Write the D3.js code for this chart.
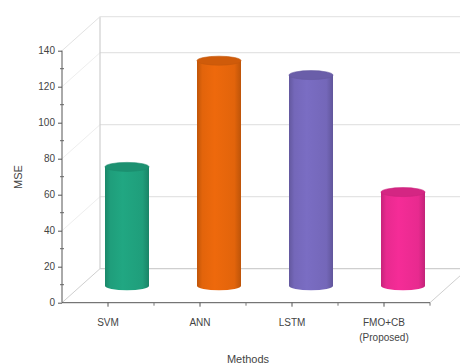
<!DOCTYPE html>
<html>
<head>
<meta charset="utf-8">
<script src="https://cdn.jsdelivr.net/npm/d3@7/dist/d3.min.js"></script>
<style>
  html, body { margin: 0; padding: 0; background: #fff; }
  svg { display: block; font-family: "Liberation Sans", Arial, sans-serif; }
</style>
</head>
<body>
<svg id="chart" width="460" height="364"></svg>
<script>
const categories = ["SVM", "ANN", "LSTM", "FMO+CB\n(Proposed)"];
const mseValues = [66, 125, 117, 52];
const barColors = ["#1f9e7b", "#e2640b", "#7467b9", "#e82a8f"];
const yTicks = [0, 20, 40, 60, 80, 100, 120, 140];
const yTitle = "MSE";
const xTitle = "Methods";

const svg = d3.select("#chart");
const depthX = 38, depthY = -34;
const x = d3.scaleBand().domain(categories).range([62, 430]).padding(0);
const y = d3.scaleLinear().domain([0, 140]).range([302.7, 50.7]);

const defs = svg.append("defs");
function shade(c, k) { return d3.color(c).darker(k).formatHex(); }
function light(c, k) { return d3.color(c).brighter(k).formatHex(); }
barColors.forEach((c, i) => {
  const g = defs.append("linearGradient").attr("id", "g" + i)
    .attr("x1", "0").attr("x2", "1").attr("y1", "0").attr("y2", "0");
  g.append("stop").attr("offset", "0%").attr("stop-color", shade(c, 0.45));
  g.append("stop").attr("offset", "12%").attr("stop-color", c);
  g.append("stop").attr("offset", "40%").attr("stop-color", light(c, 0.15));
  g.append("stop").attr("offset", "85%").attr("stop-color", c);
  g.append("stop").attr("offset", "100%").attr("stop-color", shade(c, 0.5));
});

const wallColor = "#cfcfcf", gridColor = "#e4e4e4";
const bx0 = 62 + depthX, bx1 = 430 + depthX;
// back wall gridlines
[40, 80, 120].forEach(v => {
  svg.append("line").attr("x1", bx0).attr("x2", bx1)
    .attr("y1", y(v) + depthY).attr("y2", y(v) + depthY)
    .attr("stroke", gridColor).attr("stroke-width", 1.2);
  svg.append("line").attr("x1", 62).attr("x2", bx0)
    .attr("y1", y(v)).attr("y2", y(v) + depthY)
    .attr("stroke", "#eeeeee").attr("stroke-width", 1);
});
// back wall frame
svg.append("line").attr("x1", bx0).attr("x2", bx0).attr("y1", y(0) + depthY).attr("y2", y(140) + depthY)
  .attr("stroke", wallColor).attr("stroke-width", 1.2);
svg.append("line").attr("x1", bx0).attr("x2", bx1).attr("y1", y(140) + depthY).attr("y2", y(140) + depthY)
  .attr("stroke", "#e6e6e6").attr("stroke-width", 1.2);
svg.append("line").attr("x1", bx0).attr("x2", bx1).attr("y1", y(0) + depthY).attr("y2", y(0) + depthY)
  .attr("stroke", wallColor).attr("stroke-width", 1.2);
// left wall edges
svg.append("line").attr("x1", 62).attr("x2", bx0).attr("y1", y(140)).attr("y2", y(140) + depthY)
  .attr("stroke", "#e2e2e2").attr("stroke-width", 1);
svg.append("line").attr("x1", 62).attr("x2", bx0).attr("y1", y(0)).attr("y2", y(0) + depthY)
  .attr("stroke", wallColor).attr("stroke-width", 1);
// floor right edge
svg.append("line").attr("x1", 430).attr("x2", bx1).attr("y1", y(0)).attr("y2", y(0) + depthY)
  .attr("stroke", wallColor).attr("stroke-width", 1);

// bars (cylinders)
const rx = 22, ry = 4.5;
const bars = svg.append("g");
categories.forEach((cat, i) => {
  const cx = x(cat) + x.bandwidth() / 2 + depthX / 2;
  const yb = y(0) + depthY / 2;
  const yt = y(mseValues[i]) + depthY / 2;
  const c = barColors[i];
  const g = bars.append("g");
  g.append("path")
    .attr("d", `M${cx - rx},${yt} L${cx - rx},${yb} A${rx},${ry} 0 0 0 ${cx + rx},${yb} L${cx + rx},${yt} Z`)
    .attr("fill", `url(#g${i})`);
  g.append("ellipse").attr("cx", cx).attr("cy", yt).attr("rx", rx).attr("ry", ry)
    .attr("fill", shade(c, 0.25)).attr("stroke", shade(c, 0.4)).attr("stroke-width", 0.6);
});

// y axis
const yAxis = d3.axisLeft(y).tickValues(yTicks).tickSize(4).tickPadding(3).tickFormat(d3.format("d"));
const ya = svg.append("g").attr("transform", "translate(62,0)").call(yAxis);
ya.select(".domain").attr("stroke", "#555").attr("d", `M0,${y(0)}V${y(140)}`);
ya.selectAll(".tick line").attr("stroke", "#555");
ya.selectAll(".tick text").attr("fill", "#444").style("font-size", "10px");
d3.range(10, 140, 20).forEach(v => {
  ya.append("line").attr("x1", -2).attr("x2", 2).attr("y1", y(v)).attr("y2", y(v)).attr("stroke", "#666");
});

// x axis
svg.append("line").attr("x1", 62).attr("x2", 430).attr("y1", y(0)).attr("y2", y(0))
  .attr("stroke", "#555").attr("stroke-width", 1);
categories.forEach(cat => {
  const cx = x(cat) + x.bandwidth() / 2;
  svg.append("line").attr("x1", cx).attr("x2", cx).attr("y1", y(0)).attr("y2", y(0) + 4).attr("stroke", "#555");
  const bx = x(cat) + x.bandwidth();
  svg.append("line").attr("x1", bx).attr("x2", bx).attr("y1", y(0)).attr("y2", y(0) + 3).attr("stroke", "#777");
  const lines = cat.split("\n");
  const t = svg.append("text").attr("x", cx).attr("y", 326)
    .attr("text-anchor", "middle").attr("fill", "#444").style("font-size", "10px");
  lines.forEach((l, j) => {
    t.append("tspan").attr("x", cx).attr("dy", j === 0 ? 0 : 15).text(l);
  });
});

// axis titles
svg.append("text").attr("x", 248).attr("y", 363).attr("text-anchor", "middle")
  .attr("fill", "#444").style("font-size", "11px").text(xTitle);
svg.append("text").attr("transform", "translate(22,177) rotate(-90)").attr("text-anchor", "middle")
  .attr("fill", "#444").style("font-size", "11px").text(yTitle);
</script>
</body>
</html>
